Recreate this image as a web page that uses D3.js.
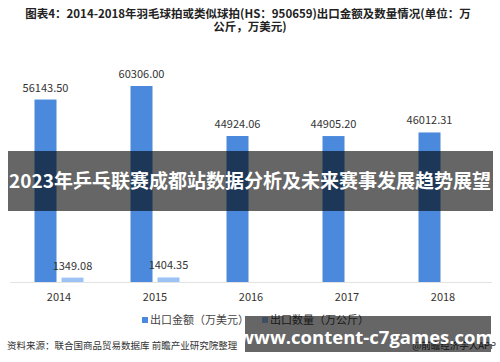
<!DOCTYPE html>
<html>
<head>
<meta charset="utf-8">
<script src="https://cdn.jsdelivr.net/npm/d3@7"></script>
<style>
  body { margin: 0; background: #fff; }
  svg { display: block; font-family: "Noto Sans CJK SC", "Noto Sans", sans-serif; }
</style>
</head>
<body>
<div id="chart"></div>
<script>
const years = ["2014", "2015", "2016", "2017", "2018"];
const seriesNames = ["出口金额（万美元）", "出口数量（万公斤）"];
const amount = [56143.50, 60306.00, 44924.06, 44905.20, 46012.31];
const quantity = [1349.08, 1404.35, null, null, null];
const colors = ["#4a89dc", "#9dc3f5"];

const W = 500, H = 362;
const svg = d3.select("#chart").append("svg")
  .attr("width", W).attr("height", H);

// title
const title = svg.append("text")
  .attr("text-anchor", "middle")
  .attr("font-size", "11.5px")
  .attr("font-weight", "bold")
  .attr("fill", "#222");
title.append("tspan").attr("x", 248).attr("y", 18)
  .text("图表4：2014-2018年羽毛球拍或类似球拍(HS：950659)出口金额及数量情况(单位：万");
title.append("tspan").attr("x", 250).attr("y", 31)
  .text("公斤，万美元)");

const baseY = 282;
const x = d3.scaleBand().domain(years).range([11, 491]);
const x1 = d3.scaleBand().domain([0, 1]).range([0, 49]).paddingInner(0.185);
const y = d3.scaleLinear().domain([0, 70000]).range([baseY, baseY - 70000 * 0.00325]);

const rows = years.map((yr, i) => ({ year: yr, vals: [amount[i], quantity[i]] }));

// baseline
svg.append("line")
  .attr("x1", 10).attr("x2", 492)
  .attr("y1", baseY + 0.5).attr("y2", baseY + 0.5)
  .attr("stroke", "#e3e3e3");

const g = svg.selectAll("g.grp").data(rows).join("g")
  .attr("class", "grp")
  .attr("transform", d => `translate(${x(d.year) + x.bandwidth() / 2 - 24.5},0)`);

const bars = g.selectAll("g.bar")
  .data(d => d.vals.map((v, k) => ({ k, v })).filter(e => e.v != null))
  .join("g").attr("class", "bar");

bars.append("rect")
  .attr("x", e => x1(e.k))
  .attr("y", e => y(e.v))
  .attr("width", x1.bandwidth())
  .attr("height", e => baseY - y(e.v))
  .attr("fill", e => colors[e.k]);

bars.append("text")
  .attr("x", e => x1(e.k) + x1.bandwidth() / 2)
  .attr("y", e => y(e.v) - 8)
  .attr("text-anchor", "middle")
  .attr("font-size", "11px")
  .attr("fill", "#333")
  .text(e => e.v.toFixed(2));

// x labels
svg.selectAll("text.xl").data(years).join("text")
  .attr("class", "xl")
  .attr("x", d => x(d) + x.bandwidth() / 2)
  .attr("y", 301)
  .attr("text-anchor", "middle")
  .attr("font-size", "11px")
  .attr("fill", "#333")
  .text(d => d);

// legend
const legX = [142, 262];
seriesNames.forEach((s, k) => {
  svg.append("rect").attr("x", legX[k]).attr("y", 317).attr("width", 6).attr("height", 6)
    .attr("fill", colors[k]);
  svg.append("text").attr("x", legX[k] + 8).attr("y", 324)
    .attr("font-size", "11px").attr("fill", "#444").text(s);
});

// source
svg.append("text").attr("x", 7).attr("y", 349)
  .attr("font-size", "9.5px").attr("fill", "#333")
  .text("资料来源：联合国商品贸易数据库 前瞻产业研究院整理");
svg.append("text").attr("x", 496).attr("y", 349).attr("text-anchor", "end")
  .attr("font-size", "9.5px").attr("fill", "#333")
  .text("@前瞻经济学人APP");

// overlay banner
svg.append("rect").attr("x", 8).attr("y", 151).attr("width", 485).attr("height", 60)
  .attr("fill", "rgba(0,0,0,0.6)");
svg.append("text").attr("x", 250).attr("y", 188).attr("text-anchor", "middle")
  .attr("font-size", "19px").attr("font-weight", "bold").attr("fill", "#fff")
  .text("2023年乒乓联赛成都站数据分析及未来赛事发展趋势展望");

// overlay watermark box
svg.append("rect").attr("x", 245).attr("y", 316).attr("width", 246).attr("height", 36)
  .attr("fill", "rgba(0,0,0,0.6)");
svg.append("text").attr("x", 366).attr("y", 344).attr("text-anchor", "middle")
  .attr("font-size", "18.5px").attr("font-weight", "bold").attr("fill", "#fff")
  .attr("font-family", "'Open Sans', 'DejaVu Sans', sans-serif")
  .text("www.content-c7games.com");
</script>
</body>
</html>
